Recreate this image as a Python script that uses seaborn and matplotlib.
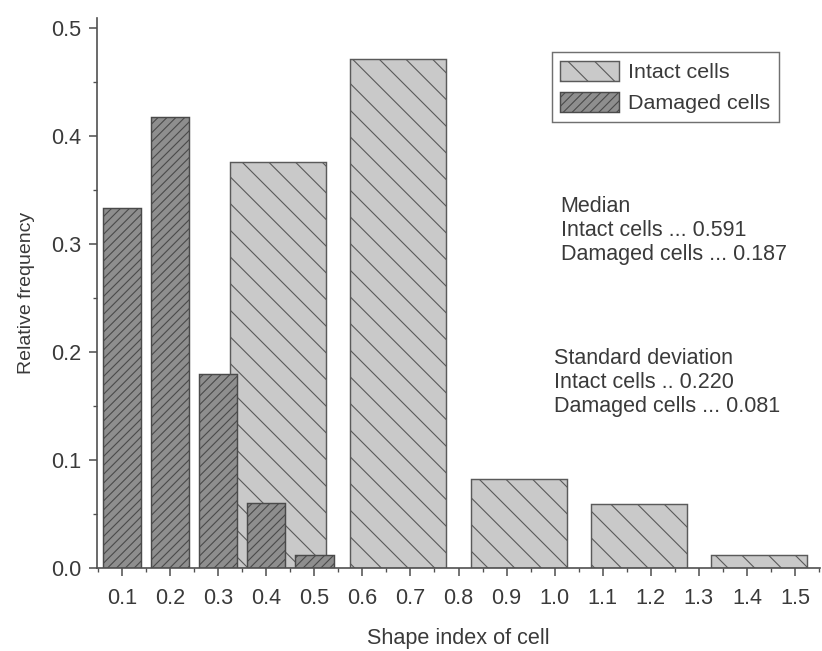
import matplotlib
matplotlib.use("Agg")
import matplotlib.pyplot as plt
from matplotlib.patches import Patch
from matplotlib.ticker import MultipleLocator
import numpy as np
import pandas as pd
import seaborn as sns

# Relative frequencies of the cell shape index
damaged_centers = [0.1, 0.2, 0.3, 0.4, 0.5]
damaged_freq = [0.333, 0.417, 0.179, 0.060, 0.012]
damaged_edges = [0.05, 0.15, 0.25, 0.35, 0.45, 0.55]

intact_centers = [0.425, 0.675, 0.925, 1.175, 1.425]
intact_freq = [0.376, 0.471, 0.082, 0.059, 0.012]
intact_edges = [0.30, 0.55, 0.80, 1.05, 1.30, 1.55]

x_ticks = [0.1, 0.2, 0.3, 0.4, 0.5, 0.6, 0.7, 0.8, 0.9, 1.0, 1.1, 1.2, 1.3, 1.4, 1.5]
y_ticks = [0.0, 0.1, 0.2, 0.3, 0.4, 0.5]

median_lines = ["Median", "Intact cells ... 0.591", "Damaged cells ... 0.187"]
sd_lines = ["Standard deviation", "Intact cells .. 0.220", "Damaged cells ... 0.081"]

intact_df = pd.DataFrame({"shape": intact_centers, "freq": intact_freq})
damaged_df = pd.DataFrame({"shape": damaged_centers, "freq": damaged_freq})

sns.set_style("ticks")
plt.rcParams["font.family"] = ["Liberation Sans", "DejaVu Sans"]
plt.rcParams["hatch.linewidth"] = 1.0

DPI = 80
fig = plt.figure(figsize=(822 / DPI, 651 / DPI), dpi=DPI)
ax = fig.add_axes([97 / 822, 1 - 567.7 / 651, (820 - 97) / 822, (567.7 - 18) / 651])

intact_style = dict(facecolor="#c9c9c9", edgecolor="#5a5a5a", hatch="\\", linewidth=1.3)
damaged_style = dict(facecolor="#8e8e8e", edgecolor="#4a4a4a", hatch="///", linewidth=1.3)

sns.histplot(data=intact_df, x="shape", weights="freq", bins=intact_edges,
             shrink=0.8, ax=ax, alpha=1, **intact_style)
sns.histplot(data=damaged_df, x="shape", weights="freq", bins=damaged_edges,
             shrink=0.8, ax=ax, alpha=1, **damaged_style)

ax.set_xlim(0.048, 1.552)
ax.set_ylim(0, 0.509)
ax.set_xticks(x_ticks)
ax.set_xticklabels([f"{t:.1f}" for t in x_ticks])
ax.set_yticks(y_ticks)
ax.set_yticklabels([f"{t:.1f}" for t in y_ticks])
ax.xaxis.set_minor_locator(MultipleLocator(0.05))
ax.yaxis.set_minor_locator(MultipleLocator(0.05))

ink = "#3a3a3a"
for side in ("top", "right"):
    ax.spines[side].set_visible(False)
for side in ("left", "bottom"):
    ax.spines[side].set_color("#505050")
    ax.spines[side].set_linewidth(1.5)
ax.tick_params(which="major", direction="out", length=7, width=1.4,
               color="#505050", labelsize=19.5, labelcolor=ink)
ax.tick_params(axis="x", which="major", pad=11)
ax.tick_params(axis="y", which="major", pad=7)
ax.tick_params(which="minor", direction="out", length=4, width=1.2, color="#505050")

ax.set_xlabel("Shape index of cell", fontsize=19.5, color=ink, labelpad=17)
ax.set_ylabel("Relative frequency", fontsize=17.5, color=ink, labelpad=15)

handles = [Patch(label="Intact cells", **intact_style),
           Patch(label="Damaged cells", **damaged_style)]
leg = ax.legend(handles=handles, loc="upper right", bbox_to_anchor=(0.943, 0.938),
                fontsize=19.3, frameon=True, fancybox=False, framealpha=1,
                edgecolor="#707070", handlelength=2.74, handleheight=1.07,
                handletextpad=0.42, borderpad=0.4, labelspacing=0.45,
                borderaxespad=0)
leg.get_frame().set_linewidth(1.3)
for t in leg.get_texts():
    t.set_color(ink)

y0, dy = 0.334, 0.0222
for i, line in enumerate(median_lines):
    ax.text(1.0125, y0 - i * dy, line, fontsize=19.4, color=ink, va="center", ha="left")
y0 = 0.194
for i, line in enumerate(sd_lines):
    ax.text(0.998, y0 - i * dy, line, fontsize=19.4, color=ink, va="center", ha="left")

fig.savefig("out.png", dpi=DPI, facecolor="white")
